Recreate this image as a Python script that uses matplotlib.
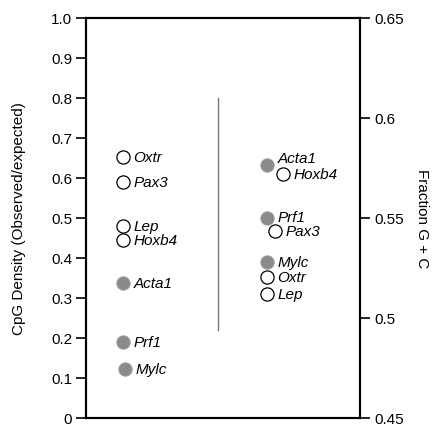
import matplotlib
matplotlib.use("Agg")
import matplotlib.pyplot as plt

plt.rcParams['font.family'] = ['Liberation Sans', 'DejaVu Sans']

# Left group: CpG density (observed/expected)
cpg_genes = ["Oxtr", "Pax3", "Lep", "Hoxb4", "Acta1", "Prf1", "Mylc"]
cpg_values = [0.652, 0.590, 0.480, 0.445, 0.338, 0.190, 0.122]
cpg_filled = [False, False, False, False, True, True, True]
cpg_x = [0.135, 0.135, 0.135, 0.135, 0.135, 0.135, 0.142]

# Right group: fraction G + C
gc_genes = ["Acta1", "Hoxb4", "Prf1", "Pax3", "Mylc", "Oxtr", "Lep"]
gc_values = [0.5765, 0.572, 0.550, 0.5435, 0.528, 0.5205, 0.512]
gc_filled = [True, False, True, False, True, False, False]
gc_x = [0.66, 0.72, 0.66, 0.69, 0.66, 0.66, 0.66]
gc_label_dy = [5, 0, 1, 0, 0, 0, 0]

left_ticks = [0, 0.1, 0.2, 0.3, 0.4, 0.5, 0.6, 0.7, 0.8, 0.9, 1.0]
left_ticklabels = ["0", "0.1", "0.2", "0.3", "0.4", "0.5", "0.6", "0.7", "0.8", "0.9", "1.0"]
right_ticks = [0.45, 0.5, 0.55, 0.6, 0.65]
right_ticklabels = ["0.45", "0.5", "0.55", "0.6", "0.65"]

divider_x = 0.48
divider_y = (0.22, 0.80)

fig = plt.figure(figsize=(4.35, 4.27), dpi=100)
ax = fig.add_axes([86/435, 1 - 419/427, 274/435, 400/427])
ax2 = ax.twinx()

ax.set_xlim(0, 1)
ax.set_ylim(0, 1)
ax2.set_ylim(0.45, 0.65)

fs = 11
grey = "#8a8a8a"
ms = 9.5

def draw(axis, xs, ys, filled, names, dys):
    for x, y, f, n, dy in zip(xs, ys, filled, names, dys):
        if f:
            axis.plot(x, y, 'o', ms=ms, mfc=grey, mec="#9a9a9a", mew=0.8, zorder=3)
        else:
            axis.plot(x, y, 'o', ms=ms, mfc="white", mec="black", mew=0.9, zorder=3)
        axis.annotate(n, (x, y), xytext=(7.5, dy), textcoords="offset points",
                      ha="left", va="center", fontsize=fs, style="italic")

draw(ax, cpg_x, cpg_values, cpg_filled, cpg_genes, [0]*len(cpg_genes))
draw(ax2, gc_x, gc_values, gc_filled, gc_genes, gc_label_dy)

ax.plot([divider_x, divider_x], list(divider_y), color="#777777", lw=1.0)

for a in (ax, ax2):
    for s in a.spines.values():
        s.set_linewidth(1.5)
ax.set_xticks([])
ax.set_yticks(left_ticks)
ax.set_yticklabels(left_ticklabels, fontsize=fs)
ax2.set_yticks(right_ticks)
ax2.set_yticklabels(right_ticklabels, fontsize=fs)
ax.tick_params(axis='y', direction='out', length=7, width=1.2, pad=3)
ax2.tick_params(axis='y', direction='out', length=7, width=1.2, pad=3)

ax.set_ylabel("CpG Density (Observed/expected)", fontsize=fs, labelpad=18)
ax2.set_ylabel("Fraction G + C", fontsize=fs, rotation=270, labelpad=18)

fig.savefig("out.png", dpi=100)
